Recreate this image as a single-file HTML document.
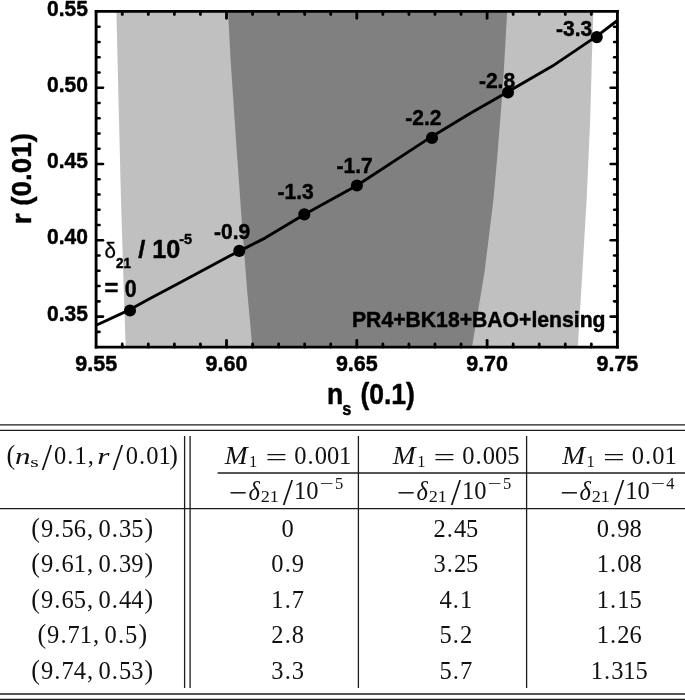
<!DOCTYPE html>
<html lang="en"><head><meta charset="utf-8"><title>ns-r plot and table</title>
<style>
html,body{margin:0;padding:0;background:#fff;}
body{width:685px;height:700px;overflow:hidden;}
svg{display:block;}
.sb{font-family:"Liberation Sans",Arial,Helvetica,sans-serif;font-weight:bold;fill:#000;stroke:#000;stroke-width:0.45px;stroke-linejoin:round;}
.sr{font-family:"Liberation Sans",Arial,Helvetica,sans-serif;font-weight:normal;fill:#000;stroke:#000;stroke-width:0.3px;}
.tr{font-family:"Liberation Serif","DejaVu Serif",serif;fill:#111;}
.ti{font-family:"Liberation Serif","DejaVu Serif",serif;font-style:italic;fill:#111;}
</style></head><body>
<svg width="685" height="700" viewBox="0 0 685 700">
<rect x="0" y="0" width="685" height="700" fill="#ffffff"/>
<g id="contours">
<polygon points="116.4,11.4 118.5,100.0 121.0,200.0 123.8,290.0 125.7,347.1 577.8,347.1 582.3,273.0 586.6,200.0 590.2,120.0 591.8,60.0 593.4,11.4" fill="#c0c0c0"/>
<polygon points="228.0,11.4 230.6,60.0 236.0,140.0 241.3,215.0 247.1,290.0 252.3,347.1 472.0,347.1 484.4,273.0 493.4,200.0 497.0,160.0 503.0,85.0 507.2,11.4" fill="#808080"/>
</g>
<g id="xticks" stroke="#000" stroke-width="2.8" stroke-linecap="round">
<line x1="122.26" y1="11.55" x2="122.26" y2="14.55"/>
<line x1="122.26" y1="347.00" x2="122.26" y2="344.00"/>
<line x1="148.32" y1="11.55" x2="148.32" y2="14.55"/>
<line x1="148.32" y1="347.00" x2="148.32" y2="344.00"/>
<line x1="174.38" y1="11.55" x2="174.38" y2="14.55"/>
<line x1="174.38" y1="347.00" x2="174.38" y2="344.00"/>
<line x1="200.44" y1="11.55" x2="200.44" y2="14.55"/>
<line x1="200.44" y1="347.00" x2="200.44" y2="344.00"/>
<line x1="226.50" y1="11.55" x2="226.50" y2="18.25"/>
<line x1="226.50" y1="347.00" x2="226.50" y2="340.30"/>
<line x1="252.56" y1="11.55" x2="252.56" y2="14.55"/>
<line x1="252.56" y1="347.00" x2="252.56" y2="344.00"/>
<line x1="278.62" y1="11.55" x2="278.62" y2="14.55"/>
<line x1="278.62" y1="347.00" x2="278.62" y2="344.00"/>
<line x1="304.68" y1="11.55" x2="304.68" y2="14.55"/>
<line x1="304.68" y1="347.00" x2="304.68" y2="344.00"/>
<line x1="330.74" y1="11.55" x2="330.74" y2="14.55"/>
<line x1="330.74" y1="347.00" x2="330.74" y2="344.00"/>
<line x1="356.80" y1="11.55" x2="356.80" y2="18.25"/>
<line x1="356.80" y1="347.00" x2="356.80" y2="340.30"/>
<line x1="382.86" y1="11.55" x2="382.86" y2="14.55"/>
<line x1="382.86" y1="347.00" x2="382.86" y2="344.00"/>
<line x1="408.92" y1="11.55" x2="408.92" y2="14.55"/>
<line x1="408.92" y1="347.00" x2="408.92" y2="344.00"/>
<line x1="434.98" y1="11.55" x2="434.98" y2="14.55"/>
<line x1="434.98" y1="347.00" x2="434.98" y2="344.00"/>
<line x1="461.04" y1="11.55" x2="461.04" y2="14.55"/>
<line x1="461.04" y1="347.00" x2="461.04" y2="344.00"/>
<line x1="487.10" y1="11.55" x2="487.10" y2="18.25"/>
<line x1="487.10" y1="347.00" x2="487.10" y2="340.30"/>
<line x1="513.16" y1="11.55" x2="513.16" y2="14.55"/>
<line x1="513.16" y1="347.00" x2="513.16" y2="344.00"/>
<line x1="539.22" y1="11.55" x2="539.22" y2="14.55"/>
<line x1="539.22" y1="347.00" x2="539.22" y2="344.00"/>
<line x1="565.28" y1="11.55" x2="565.28" y2="14.55"/>
<line x1="565.28" y1="347.00" x2="565.28" y2="344.00"/>
<line x1="591.34" y1="11.55" x2="591.34" y2="14.55"/>
<line x1="591.34" y1="347.00" x2="591.34" y2="344.00"/>
</g>
<g id="yticks" stroke="#000" stroke-width="2.6" stroke-linecap="round">
<line x1="96.30" y1="26.71" x2="99.50" y2="26.71"/>
<line x1="617.30" y1="26.71" x2="614.10" y2="26.71"/>
<line x1="96.30" y1="41.96" x2="99.50" y2="41.96"/>
<line x1="617.30" y1="41.96" x2="614.10" y2="41.96"/>
<line x1="96.30" y1="57.22" x2="99.50" y2="57.22"/>
<line x1="617.30" y1="57.22" x2="614.10" y2="57.22"/>
<line x1="96.30" y1="72.48" x2="99.50" y2="72.48"/>
<line x1="617.30" y1="72.48" x2="614.10" y2="72.48"/>
<line x1="96.30" y1="87.73" x2="103.00" y2="87.73"/>
<line x1="617.30" y1="87.73" x2="610.60" y2="87.73"/>
<line x1="96.30" y1="102.99" x2="99.50" y2="102.99"/>
<line x1="617.30" y1="102.99" x2="614.10" y2="102.99"/>
<line x1="96.30" y1="118.25" x2="99.50" y2="118.25"/>
<line x1="617.30" y1="118.25" x2="614.10" y2="118.25"/>
<line x1="96.30" y1="133.50" x2="99.50" y2="133.50"/>
<line x1="617.30" y1="133.50" x2="614.10" y2="133.50"/>
<line x1="96.30" y1="148.76" x2="99.50" y2="148.76"/>
<line x1="617.30" y1="148.76" x2="614.10" y2="148.76"/>
<line x1="96.30" y1="164.02" x2="103.00" y2="164.02"/>
<line x1="617.30" y1="164.02" x2="610.60" y2="164.02"/>
<line x1="96.30" y1="179.28" x2="99.50" y2="179.28"/>
<line x1="617.30" y1="179.28" x2="614.10" y2="179.28"/>
<line x1="96.30" y1="194.53" x2="99.50" y2="194.53"/>
<line x1="617.30" y1="194.53" x2="614.10" y2="194.53"/>
<line x1="96.30" y1="209.79" x2="99.50" y2="209.79"/>
<line x1="617.30" y1="209.79" x2="614.10" y2="209.79"/>
<line x1="96.30" y1="225.05" x2="99.50" y2="225.05"/>
<line x1="617.30" y1="225.05" x2="614.10" y2="225.05"/>
<line x1="96.30" y1="240.30" x2="103.00" y2="240.30"/>
<line x1="617.30" y1="240.30" x2="610.60" y2="240.30"/>
<line x1="96.30" y1="255.56" x2="99.50" y2="255.56"/>
<line x1="617.30" y1="255.56" x2="614.10" y2="255.56"/>
<line x1="96.30" y1="270.82" x2="99.50" y2="270.82"/>
<line x1="617.30" y1="270.82" x2="614.10" y2="270.82"/>
<line x1="96.30" y1="286.07" x2="99.50" y2="286.07"/>
<line x1="617.30" y1="286.07" x2="614.10" y2="286.07"/>
<line x1="96.30" y1="301.33" x2="99.50" y2="301.33"/>
<line x1="617.30" y1="301.33" x2="614.10" y2="301.33"/>
<line x1="96.30" y1="316.59" x2="103.00" y2="316.59"/>
<line x1="617.30" y1="316.59" x2="610.60" y2="316.59"/>
<line x1="96.30" y1="331.84" x2="99.50" y2="331.84"/>
<line x1="617.30" y1="331.84" x2="614.10" y2="331.84"/>
</g>
<polyline id="curve" points="96.2,325.3 130.0,309.6 150.0,298.5 176.0,284.7 230.0,255.8 239.4,251.1 265.0,238.1 304.3,214.4 356.9,185.5 432.0,136.4 470.0,113.5 508.0,91.7 552.4,66.1 596.8,36.1 617.4,20.5" fill="none" stroke="#000" stroke-width="2.9" stroke-linejoin="round"/>
<g id="dots" fill="#000">
<circle cx="130.0" cy="310.5" r="6.05"/>
<circle cx="239.3" cy="250.9" r="6.05"/>
<circle cx="304.3" cy="214.4" r="6.05"/>
<circle cx="356.9" cy="185.5" r="6.05"/>
<circle cx="432.0" cy="137.9" r="6.05"/>
<circle cx="508.0" cy="92.4" r="6.05"/>
<circle cx="596.8" cy="37.1" r="6.05"/>
</g>
<g id="frame" stroke="#000" stroke-linecap="square">
<line x1="96.20" y1="11.45" x2="617.40" y2="11.45" stroke-width="2.7"/>
<line x1="96.20" y1="347.10" x2="617.40" y2="347.10" stroke-width="2.7"/>
<line x1="96.10" y1="11.45" x2="96.10" y2="347.10" stroke-width="2.85"/>
<line x1="617.40" y1="11.45" x2="617.40" y2="347.10" stroke-width="2.85"/>
</g>
<text class="sb" transform="translate(87.90 15.55) scale(0.990 1.000)" font-size="21.20" text-anchor="end">0.55</text>
<text class="sb" transform="translate(87.90 91.83) scale(0.990 1.000)" font-size="21.20" text-anchor="end">0.50</text>
<text class="sb" transform="translate(87.90 168.12) scale(0.990 1.000)" font-size="21.20" text-anchor="end">0.45</text>
<text class="sb" transform="translate(87.90 244.40) scale(0.990 1.000)" font-size="21.20" text-anchor="end">0.40</text>
<text class="sb" transform="translate(87.90 320.69) scale(0.990 1.000)" font-size="21.20" text-anchor="end">0.35</text>
<text class="sb" transform="translate(96.20 371.40) scale(1.015 1.000)" font-size="21.20" text-anchor="middle">9.55</text>
<text class="sb" transform="translate(226.50 371.40) scale(1.015 1.000)" font-size="21.20" text-anchor="middle">9.60</text>
<text class="sb" transform="translate(356.80 371.40) scale(1.015 1.000)" font-size="21.20" text-anchor="middle">9.65</text>
<text class="sb" transform="translate(487.10 371.40) scale(1.015 1.000)" font-size="21.20" text-anchor="middle">9.70</text>
<text class="sb" transform="translate(617.40 371.40) scale(1.015 1.000)" font-size="21.20" text-anchor="middle">9.75</text>
<text class="sb" transform="translate(327.1 403.7) scale(0.915 1)" font-size="29">n<tspan font-size="18" dy="10.8" dx="-1.2">s</tspan><tspan dy="-10.8" dx="1.8"> (0.1)</tspan></text>
<text class="sb" transform="translate(30.6 224.2) rotate(-90) scale(1.012 1)" font-size="27.5">r (0.01)</text>
<text id="ann1" class="sb"><tspan class="sr" x="104.60" y="258.00" font-size="21.60" textLength="11.42" lengthAdjust="spacingAndGlyphs">δ</tspan><tspan x="116.10" y="267.90" font-size="14.60" textLength="14.94" lengthAdjust="spacingAndGlyphs">21</tspan><tspan x="131.50" y="257.90" font-size="24.20"> </tspan><tspan x="138.30" y="257.90" font-size="24.20" textLength="7.06" lengthAdjust="spacingAndGlyphs">/</tspan><tspan x="146.00" y="257.90" font-size="24.20"> </tspan><tspan x="152.30" y="258.00" font-size="25.20">10</tspan><tspan x="179.30" y="244.40" font-size="15.40" textLength="12.87" lengthAdjust="spacingAndGlyphs">-5</tspan></text>
<text id="ann2" class="sb"><tspan x="104.60" y="296.40" font-size="23.30" textLength="13.88" lengthAdjust="spacingAndGlyphs">=</tspan><tspan x="119.00" y="296.40" font-size="23.30"> </tspan><tspan x="124.70" y="296.60" font-size="23.30" textLength="11.92" lengthAdjust="spacingAndGlyphs">0</tspan></text>
<text class="sb" transform="translate(214.10 238.80) scale(0.955 1.000)" font-size="22.00" text-anchor="start">-0.9</text>
<text class="sb" transform="translate(277.50 198.50) scale(0.955 1.000)" font-size="22.00" text-anchor="start">-1.3</text>
<text class="sb" transform="translate(336.50 173.10) scale(0.955 1.000)" font-size="22.00" text-anchor="start">-1.7</text>
<text class="sb" transform="translate(405.30 125.10) scale(0.955 1.000)" font-size="22.00" text-anchor="start">-2.2</text>
<text class="sb" transform="translate(478.90 88.30) scale(0.955 1.000)" font-size="22.00" text-anchor="start">-2.8</text>
<text class="sb" transform="translate(556.10 36.20) scale(0.955 1.000)" font-size="22.00" text-anchor="start">-3.3</text>
<text class="sb" transform="translate(352.00 327.10) scale(0.985 1.000)" font-size="21.50" text-anchor="start">PR4+BK18+BAO+lensing</text>
<g id="table">
<g id="rules" stroke="#1c1c1c" stroke-width="1.3" fill="none">
<line x1="0" y1="424.9" x2="685" y2="424.9"/>
<line x1="0" y1="430.4" x2="685" y2="430.4"/>
<line x1="0" y1="508.7" x2="685" y2="508.7"/>
<line x1="0" y1="694.0" x2="685" y2="694.0"/>
<line x1="0" y1="699.5" x2="685" y2="699.5"/>
<line x1="217.6" y1="473.0" x2="685" y2="473.0"/>
<line x1="184.6" y1="436.0" x2="184.6" y2="688.0"/>
<line x1="190.1" y1="436.0" x2="190.1" y2="688.0"/>
<line x1="358.4" y1="436.0" x2="358.4" y2="688.0"/>
<line x1="526.6" y1="436.0" x2="526.6" y2="688.0"/>
</g>
<text id="h1" class="tr"><tspan x="6.42" y="463.70" font-size="26.95" textLength="8.65" lengthAdjust="spacingAndGlyphs">(</tspan><tspan class="ti" x="15.11" y="463.70" font-size="22.79" textLength="15.56" lengthAdjust="spacingAndGlyphs">n</tspan><tspan x="30.39" y="466.60" font-size="14.60" textLength="8.52" lengthAdjust="spacingAndGlyphs">s</tspan><tspan x="41.76" y="469.50" font-size="37.00">/</tspan><tspan x="53.98 67.29 74.47 87.74 92.44" y="463.70" font-size="24.50">0.1, </tspan><tspan class="ti" x="97.22" y="463.70" font-size="22.79" textLength="12.20" lengthAdjust="spacingAndGlyphs">r</tspan><tspan x="112.76" y="469.50" font-size="37.00">/</tspan><tspan x="125.68 138.99 146.18 158.38" y="463.70" font-size="24.50">0.01</tspan><tspan x="169.23" y="463.70" font-size="26.95" textLength="8.65" lengthAdjust="spacingAndGlyphs">)</tspan></text>
<text id="h2a" class="tr"><tspan class="ti" x="224.70" y="463.60" font-size="25.48" textLength="22.86" lengthAdjust="spacingAndGlyphs">M</tspan><tspan x="249.07" y="466.80" font-size="16.50">1</tspan><tspan x="265.47" y="465.60" font-size="24.50" textLength="21.83" lengthAdjust="spacingAndGlyphs">=</tspan><tspan x="294.18 307.49 314.68 326.88 339.07" y="463.60" font-size="24.50">0.001</tspan></text>
<text id="h2b" class="tr"><tspan x="228.70" y="503.30" font-size="30.62" textLength="18.38" lengthAdjust="spacingAndGlyphs">−</tspan><tspan class="ti" x="248.39" y="499.80" font-size="26.46" textLength="11.39" lengthAdjust="spacingAndGlyphs">δ</tspan><tspan x="260.66" y="502.20" font-size="16.50" textLength="9.08" lengthAdjust="spacingAndGlyphs">2</tspan><tspan x="269.66" y="502.20" font-size="16.50" textLength="9.08" lengthAdjust="spacingAndGlyphs">1</tspan><tspan x="282.86" y="504.80" font-size="37.00">/</tspan><tspan x="293.98 306.18" y="499.00" font-size="24.50">10</tspan><tspan x="319.61" y="489.40" font-size="16.50" textLength="13.96" lengthAdjust="spacingAndGlyphs">−</tspan><tspan x="335.07" y="489.40" font-size="16.50">5</tspan></text>
<text id="h3a" class="tr"><tspan class="ti" x="392.80" y="463.60" font-size="25.48" textLength="22.86" lengthAdjust="spacingAndGlyphs">M</tspan><tspan x="417.17" y="466.80" font-size="16.50">1</tspan><tspan x="433.57" y="465.60" font-size="24.50" textLength="21.83" lengthAdjust="spacingAndGlyphs">=</tspan><tspan x="462.27 475.59 482.77 494.97 507.17" y="463.60" font-size="24.50">0.005</tspan></text>
<text id="h3b" class="tr"><tspan x="396.70" y="503.30" font-size="30.62" textLength="18.38" lengthAdjust="spacingAndGlyphs">−</tspan><tspan class="ti" x="416.39" y="499.80" font-size="26.46" textLength="11.39" lengthAdjust="spacingAndGlyphs">δ</tspan><tspan x="428.66" y="502.20" font-size="16.50" textLength="9.08" lengthAdjust="spacingAndGlyphs">2</tspan><tspan x="437.66" y="502.20" font-size="16.50" textLength="9.08" lengthAdjust="spacingAndGlyphs">1</tspan><tspan x="450.86" y="504.80" font-size="37.00">/</tspan><tspan x="461.98 474.18" y="499.00" font-size="24.50">10</tspan><tspan x="487.61" y="489.40" font-size="16.50" textLength="13.96" lengthAdjust="spacingAndGlyphs">−</tspan><tspan x="503.07" y="489.40" font-size="16.50">5</tspan></text>
<text id="h4a" class="tr"><tspan class="ti" x="562.20" y="463.60" font-size="25.48" textLength="22.86" lengthAdjust="spacingAndGlyphs">M</tspan><tspan x="586.58" y="466.80" font-size="16.50">1</tspan><tspan x="602.97" y="465.60" font-size="24.50" textLength="21.83" lengthAdjust="spacingAndGlyphs">=</tspan><tspan x="631.68 644.99 652.18 664.38" y="463.60" font-size="24.50">0.01</tspan></text>
<text id="h4b" class="tr"><tspan x="559.90" y="503.30" font-size="30.62" textLength="18.38" lengthAdjust="spacingAndGlyphs">−</tspan><tspan class="ti" x="579.59" y="499.80" font-size="26.46" textLength="11.39" lengthAdjust="spacingAndGlyphs">δ</tspan><tspan x="591.86" y="502.20" font-size="16.50" textLength="9.08" lengthAdjust="spacingAndGlyphs">2</tspan><tspan x="600.86" y="502.20" font-size="16.50" textLength="9.08" lengthAdjust="spacingAndGlyphs">1</tspan><tspan x="614.06" y="504.80" font-size="37.00">/</tspan><tspan x="625.18 637.38" y="499.00" font-size="24.50">10</tspan><tspan x="650.81" y="489.40" font-size="16.50" textLength="13.96" lengthAdjust="spacingAndGlyphs">−</tspan><tspan x="666.27" y="489.40" font-size="16.50">4</tspan></text>
<g id="r1">
<text id="r1c1" class="tr"><tspan x="31.32" y="536.70" font-size="26.95" textLength="8.65" lengthAdjust="spacingAndGlyphs">(</tspan><tspan x="41.02 54.34 61.52 73.72 86.99 92.99 98.52 111.84 119.02 131.22" y="536.70" font-size="24.50">9.56, 0.35</tspan><tspan x="144.53" y="536.70" font-size="26.95" textLength="8.65" lengthAdjust="spacingAndGlyphs">)</tspan></text>
<text id="r1c2" class="tr"><tspan x="281.57" y="536.70" font-size="24.50">0</tspan></text>
<text id="r1c3" class="tr"><tspan x="433.43 446.74 453.93 466.12" y="536.70" font-size="24.50">2.45</tspan></text>
<text id="r1c4" class="tr"><tspan x="596.73 610.04 617.23 629.43" y="536.70" font-size="24.50">0.98</tspan></text>
</g>
<g id="r2">
<text id="r2c1" class="tr"><tspan x="31.32" y="572.25" font-size="26.95" textLength="8.65" lengthAdjust="spacingAndGlyphs">(</tspan><tspan x="41.02 54.34 61.52 73.72 86.99 92.99 98.52 111.84 119.02 131.22" y="572.25" font-size="24.50">9.61, 0.39</tspan><tspan x="144.53" y="572.25" font-size="26.95" textLength="8.65" lengthAdjust="spacingAndGlyphs">)</tspan></text>
<text id="r2c2" class="tr"><tspan x="271.32 284.64 291.82" y="572.25" font-size="24.50">0.9</tspan></text>
<text id="r2c3" class="tr"><tspan x="433.43 446.74 453.93 466.12" y="572.25" font-size="24.50">3.25</tspan></text>
<text id="r2c4" class="tr"><tspan x="596.73 610.04 617.23 629.43" y="572.25" font-size="24.50">1.08</tspan></text>
</g>
<g id="r3">
<text id="r3c1" class="tr"><tspan x="31.32" y="607.80" font-size="26.95" textLength="8.65" lengthAdjust="spacingAndGlyphs">(</tspan><tspan x="41.02 54.34 61.52 73.72 86.99 92.99 98.52 111.84 119.02 131.22" y="607.80" font-size="24.50">9.65, 0.44</tspan><tspan x="144.53" y="607.80" font-size="26.95" textLength="8.65" lengthAdjust="spacingAndGlyphs">)</tspan></text>
<text id="r3c2" class="tr"><tspan x="271.32 284.64 291.82" y="607.80" font-size="24.50">1.7</tspan></text>
<text id="r3c3" class="tr"><tspan x="439.52 452.84 460.02" y="607.80" font-size="24.50">4.1</tspan></text>
<text id="r3c4" class="tr"><tspan x="596.73 610.04 617.23 629.43" y="607.80" font-size="24.50">1.15</tspan></text>
</g>
<g id="r4">
<text id="r4c1" class="tr"><tspan x="37.42" y="643.35" font-size="26.95" textLength="8.65" lengthAdjust="spacingAndGlyphs">(</tspan><tspan x="47.12 60.44 67.62 79.82 93.09 99.09 104.62 117.94 125.12" y="643.35" font-size="24.50">9.71, 0.5</tspan><tspan x="138.43" y="643.35" font-size="26.95" textLength="8.65" lengthAdjust="spacingAndGlyphs">)</tspan></text>
<text id="r4c2" class="tr"><tspan x="271.32 284.64 291.82" y="643.35" font-size="24.50">2.8</tspan></text>
<text id="r4c3" class="tr"><tspan x="439.52 452.84 460.02" y="643.35" font-size="24.50">5.2</tspan></text>
<text id="r4c4" class="tr"><tspan x="596.73 610.04 617.23 629.43" y="643.35" font-size="24.50">1.26</tspan></text>
</g>
<g id="r5">
<text id="r5c1" class="tr"><tspan x="31.32" y="678.90" font-size="26.95" textLength="8.65" lengthAdjust="spacingAndGlyphs">(</tspan><tspan x="41.02 54.34 61.52 73.72 86.99 92.99 98.52 111.84 119.02 131.22" y="678.90" font-size="24.50">9.74, 0.53</tspan><tspan x="144.53" y="678.90" font-size="26.95" textLength="8.65" lengthAdjust="spacingAndGlyphs">)</tspan></text>
<text id="r5c2" class="tr"><tspan x="271.32 284.64 291.82" y="678.90" font-size="24.50">3.3</tspan></text>
<text id="r5c3" class="tr"><tspan x="439.52 452.84 460.02" y="678.90" font-size="24.50">5.7</tspan></text>
<text id="r5c4" class="tr"><tspan x="590.63 603.94 611.13 623.33 635.53" y="678.90" font-size="24.50">1.315</tspan></text>
</g>
</g>
</svg>
</body></html>
